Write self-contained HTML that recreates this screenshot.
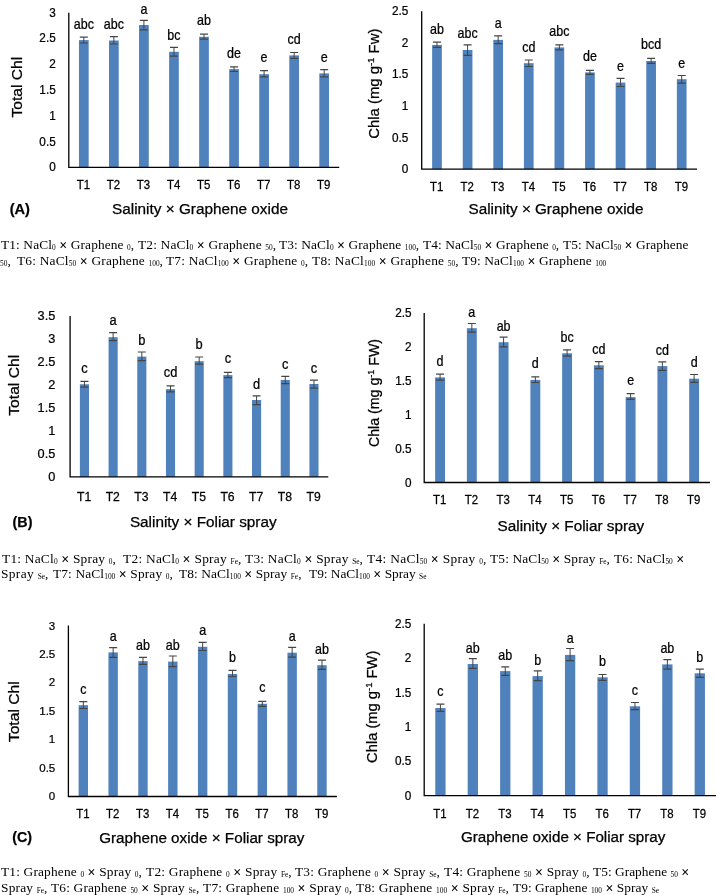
<!DOCTYPE html>
<html><head><meta charset="utf-8">
<style>
html,body{margin:0;padding:0;background:#fff;}
body{width:716px;height:895px;position:relative;overflow:hidden;}
svg{position:absolute;left:0;top:0;will-change:transform;}
text{font-family:"Liberation Sans",sans-serif;fill:#000;stroke:#000;stroke-width:0.25px;}
.k{font-size:11.5px;}
.l{font-size:12.5px;}
.t{font-size:11.2px;}
.c{position:absolute;white-space:pre;will-change:transform;font-family:"Liberation Serif",serif;font-size:13.4px;line-height:15px;color:#000;}
.s{font-size:7.4px;position:relative;top:1.2px;letter-spacing:0}
.x{font-size:14px;position:relative;top:0.6px;font-weight:bold;}
</style></head><body>
<svg width="716" height="895" viewBox="0 0 716 895">
<rect x="78.97" y="40.10" width="9.70" height="127.20" fill="#4f81bd"/>
<path d="M83.82 37.20V43.00" stroke="#454545" stroke-width="1.0" fill="none"/><path d="M79.82 37.20H87.82M79.82 43.00H87.82" stroke="#454545" stroke-width="1.2" fill="none"/>
<text transform="translate(83.82 28.60) scale(0.9 1)" text-anchor="middle" font-size="13.9">abc</text>
<text transform="translate(83.42 189.00) scale(0.96 1)" text-anchor="middle" font-size="11.9">T1</text>
<rect x="109.02" y="40.50" width="9.70" height="126.80" fill="#4f81bd"/>
<path d="M113.87 36.60V44.00" stroke="#454545" stroke-width="1.0" fill="none"/><path d="M109.87 36.60H117.87M109.87 44.00H117.87" stroke="#454545" stroke-width="1.2" fill="none"/>
<text transform="translate(113.87 28.80) scale(0.9 1)" text-anchor="middle" font-size="13.9">abc</text>
<text transform="translate(113.47 189.00) scale(0.96 1)" text-anchor="middle" font-size="11.9">T2</text>
<rect x="139.06" y="25.00" width="9.70" height="142.30" fill="#4f81bd"/>
<path d="M143.91 20.30V29.90" stroke="#454545" stroke-width="1.0" fill="none"/><path d="M139.91 20.30H147.91M139.91 29.90H147.91" stroke="#454545" stroke-width="1.2" fill="none"/>
<text transform="translate(143.91 14.00) scale(0.9 1)" text-anchor="middle" font-size="13.9">a</text>
<text transform="translate(143.51 189.00) scale(0.96 1)" text-anchor="middle" font-size="11.9">T3</text>
<rect x="169.11" y="51.80" width="9.70" height="115.50" fill="#4f81bd"/>
<path d="M173.96 47.30V56.10" stroke="#454545" stroke-width="1.0" fill="none"/><path d="M169.96 47.30H177.96M169.96 56.10H177.96" stroke="#454545" stroke-width="1.2" fill="none"/>
<text transform="translate(173.96 40.20) scale(0.9 1)" text-anchor="middle" font-size="13.9">bc</text>
<text transform="translate(173.56 189.00) scale(0.96 1)" text-anchor="middle" font-size="11.9">T4</text>
<rect x="199.15" y="36.80" width="9.70" height="130.50" fill="#4f81bd"/>
<path d="M204.00 34.20V39.10" stroke="#454545" stroke-width="1.0" fill="none"/><path d="M200.00 34.20H208.00M200.00 39.10H208.00" stroke="#454545" stroke-width="1.2" fill="none"/>
<text transform="translate(204.00 25.40) scale(0.9 1)" text-anchor="middle" font-size="13.9">ab</text>
<text transform="translate(203.60 189.00) scale(0.96 1)" text-anchor="middle" font-size="11.9">T5</text>
<rect x="229.19" y="69.10" width="9.70" height="98.20" fill="#4f81bd"/>
<path d="M234.04 66.80V71.50" stroke="#454545" stroke-width="1.0" fill="none"/><path d="M230.04 66.80H238.04M230.04 71.50H238.04" stroke="#454545" stroke-width="1.2" fill="none"/>
<text transform="translate(234.04 58.00) scale(0.9 1)" text-anchor="middle" font-size="13.9">de</text>
<text transform="translate(233.64 189.00) scale(0.96 1)" text-anchor="middle" font-size="11.9">T6</text>
<rect x="259.24" y="74.20" width="9.70" height="93.10" fill="#4f81bd"/>
<path d="M264.09 70.70V76.90" stroke="#454545" stroke-width="1.0" fill="none"/><path d="M260.09 70.70H268.09M260.09 76.90H268.09" stroke="#454545" stroke-width="1.2" fill="none"/>
<text transform="translate(264.09 62.30) scale(0.9 1)" text-anchor="middle" font-size="13.9">e</text>
<text transform="translate(263.69 189.00) scale(0.96 1)" text-anchor="middle" font-size="11.9">T7</text>
<rect x="289.28" y="55.40" width="9.70" height="111.90" fill="#4f81bd"/>
<path d="M294.13 52.50V58.40" stroke="#454545" stroke-width="1.0" fill="none"/><path d="M290.13 52.50H298.13M290.13 58.40H298.13" stroke="#454545" stroke-width="1.2" fill="none"/>
<text transform="translate(294.13 44.10) scale(0.9 1)" text-anchor="middle" font-size="13.9">cd</text>
<text transform="translate(293.73 189.00) scale(0.96 1)" text-anchor="middle" font-size="11.9">T8</text>
<rect x="319.33" y="73.40" width="9.70" height="93.90" fill="#4f81bd"/>
<path d="M324.18 69.70V76.90" stroke="#454545" stroke-width="1.0" fill="none"/><path d="M320.18 69.70H328.18M320.18 76.90H328.18" stroke="#454545" stroke-width="1.2" fill="none"/>
<text transform="translate(324.18 62.10) scale(0.9 1)" text-anchor="middle" font-size="13.9">e</text>
<text transform="translate(323.78 189.00) scale(0.96 1)" text-anchor="middle" font-size="11.9">T9</text>
<path d="M68.80 12.70V167.30H339.20" stroke="#000" stroke-width="1.3" fill="none"/>
<text transform="translate(55.70 171.30) scale(0.98 1)" text-anchor="end" font-size="12.0">0</text>
<text transform="translate(55.70 145.53) scale(0.98 1)" text-anchor="end" font-size="12.0">0.5</text>
<text transform="translate(55.70 119.76) scale(0.98 1)" text-anchor="end" font-size="12.0">1</text>
<text transform="translate(55.70 94.00) scale(0.98 1)" text-anchor="end" font-size="12.0">1.5</text>
<text transform="translate(55.70 68.23) scale(0.98 1)" text-anchor="end" font-size="12.0">2</text>
<text transform="translate(55.70 42.46) scale(0.98 1)" text-anchor="end" font-size="12.0">2.5</text>
<text transform="translate(55.70 16.70) scale(0.98 1)" text-anchor="end" font-size="12.0">3</text>
<rect x="432.14" y="45.00" width="9.70" height="124.20" fill="#4f81bd"/>
<path d="M436.99 42.20V47.30" stroke="#454545" stroke-width="1.0" fill="none"/><path d="M432.99 42.20H440.99M432.99 47.30H440.99" stroke="#454545" stroke-width="1.2" fill="none"/>
<text transform="translate(436.99 33.60) scale(0.9 1)" text-anchor="middle" font-size="13.9">ab</text>
<text transform="translate(436.59 191.30) scale(0.96 1)" text-anchor="middle" font-size="11.9">T1</text>
<rect x="462.73" y="50.00" width="9.70" height="119.20" fill="#4f81bd"/>
<path d="M467.58 44.80V55.30" stroke="#454545" stroke-width="1.0" fill="none"/><path d="M463.58 44.80H471.58M463.58 55.30H471.58" stroke="#454545" stroke-width="1.2" fill="none"/>
<text transform="translate(467.58 38.10) scale(0.9 1)" text-anchor="middle" font-size="13.9">abc</text>
<text transform="translate(467.18 191.30) scale(0.96 1)" text-anchor="middle" font-size="11.9">T2</text>
<rect x="493.32" y="39.90" width="9.70" height="129.30" fill="#4f81bd"/>
<path d="M498.17 35.80V43.60" stroke="#454545" stroke-width="1.0" fill="none"/><path d="M494.17 35.80H502.17M494.17 43.60H502.17" stroke="#454545" stroke-width="1.2" fill="none"/>
<text transform="translate(498.17 28.40) scale(0.9 1)" text-anchor="middle" font-size="13.9">a</text>
<text transform="translate(497.77 191.30) scale(0.96 1)" text-anchor="middle" font-size="11.9">T3</text>
<rect x="523.91" y="63.20" width="9.70" height="106.00" fill="#4f81bd"/>
<path d="M528.76 60.00V66.50" stroke="#454545" stroke-width="1.0" fill="none"/><path d="M524.76 60.00H532.76M524.76 66.50H532.76" stroke="#454545" stroke-width="1.2" fill="none"/>
<text transform="translate(528.76 52.40) scale(0.9 1)" text-anchor="middle" font-size="13.9">cd</text>
<text transform="translate(528.36 191.30) scale(0.96 1)" text-anchor="middle" font-size="11.9">T4</text>
<rect x="554.50" y="47.40" width="9.70" height="121.80" fill="#4f81bd"/>
<path d="M559.35 44.80V49.90" stroke="#454545" stroke-width="1.0" fill="none"/><path d="M555.35 44.80H563.35M555.35 49.90H563.35" stroke="#454545" stroke-width="1.2" fill="none"/>
<text transform="translate(559.35 35.70) scale(0.9 1)" text-anchor="middle" font-size="13.9">abc</text>
<text transform="translate(558.95 191.30) scale(0.96 1)" text-anchor="middle" font-size="11.9">T5</text>
<rect x="585.09" y="72.40" width="9.70" height="96.80" fill="#4f81bd"/>
<path d="M589.94 70.40V74.40" stroke="#454545" stroke-width="1.0" fill="none"/><path d="M585.94 70.40H593.94M585.94 74.40H593.94" stroke="#454545" stroke-width="1.2" fill="none"/>
<text transform="translate(589.94 61.00) scale(0.9 1)" text-anchor="middle" font-size="13.9">de</text>
<text transform="translate(589.54 191.30) scale(0.96 1)" text-anchor="middle" font-size="11.9">T6</text>
<rect x="615.68" y="82.60" width="9.70" height="86.60" fill="#4f81bd"/>
<path d="M620.53 78.30V86.50" stroke="#454545" stroke-width="1.0" fill="none"/><path d="M616.53 78.30H624.53M616.53 86.50H624.53" stroke="#454545" stroke-width="1.2" fill="none"/>
<text transform="translate(620.53 71.20) scale(0.9 1)" text-anchor="middle" font-size="13.9">e</text>
<text transform="translate(620.13 191.30) scale(0.96 1)" text-anchor="middle" font-size="11.9">T7</text>
<rect x="646.27" y="61.00" width="9.70" height="108.20" fill="#4f81bd"/>
<path d="M651.12 58.30V63.40" stroke="#454545" stroke-width="1.0" fill="none"/><path d="M647.12 58.30H655.12M647.12 63.40H655.12" stroke="#454545" stroke-width="1.2" fill="none"/>
<text transform="translate(651.12 49.30) scale(0.9 1)" text-anchor="middle" font-size="13.9">bcd</text>
<text transform="translate(650.72 191.30) scale(0.96 1)" text-anchor="middle" font-size="11.9">T8</text>
<rect x="676.86" y="79.20" width="9.70" height="90.00" fill="#4f81bd"/>
<path d="M681.71 75.50V83.20" stroke="#454545" stroke-width="1.0" fill="none"/><path d="M677.71 75.50H685.71M677.71 83.20H685.71" stroke="#454545" stroke-width="1.2" fill="none"/>
<text transform="translate(681.71 67.90) scale(0.9 1)" text-anchor="middle" font-size="13.9">e</text>
<text transform="translate(681.31 191.30) scale(0.96 1)" text-anchor="middle" font-size="11.9">T9</text>
<path d="M421.70 11.20V169.20H697.00" stroke="#000" stroke-width="1.3" fill="none"/>
<text transform="translate(408.30 173.20) scale(0.98 1)" text-anchor="end" font-size="12.0">0</text>
<text transform="translate(408.30 141.60) scale(0.98 1)" text-anchor="end" font-size="12.0">0.5</text>
<text transform="translate(408.30 110.00) scale(0.98 1)" text-anchor="end" font-size="12.0">1</text>
<text transform="translate(408.30 78.40) scale(0.98 1)" text-anchor="end" font-size="12.0">1.5</text>
<text transform="translate(408.30 46.80) scale(0.98 1)" text-anchor="end" font-size="12.0">2</text>
<text transform="translate(408.30 15.20) scale(0.98 1)" text-anchor="end" font-size="12.0">2.5</text>
<rect x="79.89" y="384.30" width="9.10" height="92.50" fill="#4f81bd"/>
<path d="M84.44 381.30V387.10" stroke="#454545" stroke-width="1.0" fill="none"/><path d="M80.44 381.30H88.44M80.44 387.10H88.44" stroke="#454545" stroke-width="1.2" fill="none"/>
<text transform="translate(84.44 372.90) scale(0.9 1)" text-anchor="middle" font-size="14.3">c</text>
<text transform="translate(84.04 501.30) scale(0.96 1)" text-anchor="middle" font-size="12.7">T1</text>
<rect x="108.58" y="337.20" width="9.10" height="139.60" fill="#4f81bd"/>
<path d="M113.13 332.70V340.60" stroke="#454545" stroke-width="1.0" fill="none"/><path d="M109.13 332.70H117.13M109.13 340.60H117.13" stroke="#454545" stroke-width="1.2" fill="none"/>
<text transform="translate(113.13 325.10) scale(0.9 1)" text-anchor="middle" font-size="14.3">a</text>
<text transform="translate(112.73 501.30) scale(0.96 1)" text-anchor="middle" font-size="12.7">T2</text>
<rect x="137.27" y="356.60" width="9.10" height="120.20" fill="#4f81bd"/>
<path d="M141.82 352.00V360.70" stroke="#454545" stroke-width="1.0" fill="none"/><path d="M137.82 352.00H145.82M137.82 360.70H145.82" stroke="#454545" stroke-width="1.2" fill="none"/>
<text transform="translate(141.82 344.90) scale(0.9 1)" text-anchor="middle" font-size="14.3">b</text>
<text transform="translate(141.42 501.30) scale(0.96 1)" text-anchor="middle" font-size="12.7">T3</text>
<rect x="165.96" y="389.20" width="9.10" height="87.60" fill="#4f81bd"/>
<path d="M170.51 385.80V391.80" stroke="#454545" stroke-width="1.0" fill="none"/><path d="M166.51 385.80H174.51M166.51 391.80H174.51" stroke="#454545" stroke-width="1.2" fill="none"/>
<text transform="translate(170.51 377.10) scale(0.9 1)" text-anchor="middle" font-size="14.3">cd</text>
<text transform="translate(170.11 501.30) scale(0.96 1)" text-anchor="middle" font-size="12.7">T4</text>
<rect x="194.65" y="361.20" width="9.10" height="115.60" fill="#4f81bd"/>
<path d="M199.20 357.00V364.20" stroke="#454545" stroke-width="1.0" fill="none"/><path d="M195.20 357.00H203.20M195.20 364.20H203.20" stroke="#454545" stroke-width="1.2" fill="none"/>
<text transform="translate(199.20 348.90) scale(0.9 1)" text-anchor="middle" font-size="14.3">b</text>
<text transform="translate(198.80 501.30) scale(0.96 1)" text-anchor="middle" font-size="12.7">T5</text>
<rect x="223.34" y="375.10" width="9.10" height="101.70" fill="#4f81bd"/>
<path d="M227.89 372.40V377.60" stroke="#454545" stroke-width="1.0" fill="none"/><path d="M223.89 372.40H231.89M223.89 377.60H231.89" stroke="#454545" stroke-width="1.2" fill="none"/>
<text transform="translate(227.89 363.30) scale(0.9 1)" text-anchor="middle" font-size="14.3">c</text>
<text transform="translate(227.49 501.30) scale(0.96 1)" text-anchor="middle" font-size="12.7">T6</text>
<rect x="252.03" y="400.00" width="9.10" height="76.80" fill="#4f81bd"/>
<path d="M256.58 395.90V404.60" stroke="#454545" stroke-width="1.0" fill="none"/><path d="M252.58 395.90H260.58M252.58 404.60H260.58" stroke="#454545" stroke-width="1.2" fill="none"/>
<text transform="translate(256.58 389.00) scale(0.9 1)" text-anchor="middle" font-size="14.3">d</text>
<text transform="translate(256.18 501.30) scale(0.96 1)" text-anchor="middle" font-size="12.7">T7</text>
<rect x="280.72" y="379.90" width="9.10" height="96.90" fill="#4f81bd"/>
<path d="M285.27 376.30V383.60" stroke="#454545" stroke-width="1.0" fill="none"/><path d="M281.27 376.30H289.27M281.27 383.60H289.27" stroke="#454545" stroke-width="1.2" fill="none"/>
<text transform="translate(285.27 368.90) scale(0.9 1)" text-anchor="middle" font-size="14.3">c</text>
<text transform="translate(284.87 501.30) scale(0.96 1)" text-anchor="middle" font-size="12.7">T8</text>
<rect x="309.41" y="384.00" width="9.10" height="92.80" fill="#4f81bd"/>
<path d="M313.96 380.10V388.20" stroke="#454545" stroke-width="1.0" fill="none"/><path d="M309.96 380.10H317.96M309.96 388.20H317.96" stroke="#454545" stroke-width="1.2" fill="none"/>
<text transform="translate(313.96 372.70) scale(0.9 1)" text-anchor="middle" font-size="14.3">c</text>
<text transform="translate(313.56 501.30) scale(0.96 1)" text-anchor="middle" font-size="12.7">T9</text>
<path d="M70.10 316.00V476.80H328.30" stroke="#000" stroke-width="1.3" fill="none"/>
<text transform="translate(55.30 481.15) scale(0.98 1)" text-anchor="end" font-size="13.0">0</text>
<text transform="translate(55.30 458.18) scale(0.98 1)" text-anchor="end" font-size="13.0">0.5</text>
<text transform="translate(55.30 435.21) scale(0.98 1)" text-anchor="end" font-size="13.0">1</text>
<text transform="translate(55.30 412.24) scale(0.98 1)" text-anchor="end" font-size="13.0">1.5</text>
<text transform="translate(55.30 389.27) scale(0.98 1)" text-anchor="end" font-size="13.0">2</text>
<text transform="translate(55.30 366.30) scale(0.98 1)" text-anchor="end" font-size="13.0">2.5</text>
<text transform="translate(55.30 343.33) scale(0.98 1)" text-anchor="end" font-size="13.0">3</text>
<text transform="translate(55.30 320.35) scale(0.98 1)" text-anchor="end" font-size="13.0">3.5</text>
<rect x="435.13" y="377.40" width="9.90" height="105.10" fill="#4f81bd"/>
<path d="M440.08 374.10V380.10" stroke="#454545" stroke-width="1.0" fill="none"/><path d="M436.08 374.10H444.08M436.08 380.10H444.08" stroke="#454545" stroke-width="1.2" fill="none"/>
<text transform="translate(440.08 365.70) scale(0.9 1)" text-anchor="middle" font-size="13.9">d</text>
<text transform="translate(439.68 504.00) scale(0.96 1)" text-anchor="middle" font-size="11.9">T1</text>
<rect x="466.88" y="328.20" width="9.90" height="154.30" fill="#4f81bd"/>
<path d="M471.83 323.50V332.20" stroke="#454545" stroke-width="1.0" fill="none"/><path d="M467.83 323.50H475.83M467.83 332.20H475.83" stroke="#454545" stroke-width="1.2" fill="none"/>
<text transform="translate(471.83 316.80) scale(0.9 1)" text-anchor="middle" font-size="13.9">a</text>
<text transform="translate(471.43 504.00) scale(0.96 1)" text-anchor="middle" font-size="11.9">T2</text>
<rect x="498.64" y="342.20" width="9.90" height="140.30" fill="#4f81bd"/>
<path d="M503.59 337.20V346.90" stroke="#454545" stroke-width="1.0" fill="none"/><path d="M499.59 337.20H507.59M499.59 346.90H507.59" stroke="#454545" stroke-width="1.2" fill="none"/>
<text transform="translate(503.59 331.00) scale(0.9 1)" text-anchor="middle" font-size="13.9">ab</text>
<text transform="translate(503.19 504.00) scale(0.96 1)" text-anchor="middle" font-size="11.9">T3</text>
<rect x="530.39" y="379.90" width="9.90" height="102.60" fill="#4f81bd"/>
<path d="M535.34 376.80V382.50" stroke="#454545" stroke-width="1.0" fill="none"/><path d="M531.34 376.80H539.34M531.34 382.50H539.34" stroke="#454545" stroke-width="1.2" fill="none"/>
<text transform="translate(535.34 367.90) scale(0.9 1)" text-anchor="middle" font-size="13.9">d</text>
<text transform="translate(534.94 504.00) scale(0.96 1)" text-anchor="middle" font-size="11.9">T4</text>
<rect x="562.15" y="353.30" width="9.90" height="129.20" fill="#4f81bd"/>
<path d="M567.10 349.80V356.10" stroke="#454545" stroke-width="1.0" fill="none"/><path d="M563.10 349.80H571.10M563.10 356.10H571.10" stroke="#454545" stroke-width="1.2" fill="none"/>
<text transform="translate(567.10 341.90) scale(0.9 1)" text-anchor="middle" font-size="13.9">bc</text>
<text transform="translate(566.70 504.00) scale(0.96 1)" text-anchor="middle" font-size="11.9">T5</text>
<rect x="593.91" y="365.30" width="9.90" height="117.20" fill="#4f81bd"/>
<path d="M598.86 361.70V368.70" stroke="#454545" stroke-width="1.0" fill="none"/><path d="M594.86 361.70H602.86M594.86 368.70H602.86" stroke="#454545" stroke-width="1.2" fill="none"/>
<text transform="translate(598.86 354.40) scale(0.9 1)" text-anchor="middle" font-size="13.9">cd</text>
<text transform="translate(598.46 504.00) scale(0.96 1)" text-anchor="middle" font-size="11.9">T6</text>
<rect x="625.66" y="397.10" width="9.90" height="85.40" fill="#4f81bd"/>
<path d="M630.61 393.70V399.30" stroke="#454545" stroke-width="1.0" fill="none"/><path d="M626.61 393.70H634.61M626.61 399.30H634.61" stroke="#454545" stroke-width="1.2" fill="none"/>
<text transform="translate(630.61 385.40) scale(0.9 1)" text-anchor="middle" font-size="13.9">e</text>
<text transform="translate(630.21 504.00) scale(0.96 1)" text-anchor="middle" font-size="11.9">T7</text>
<rect x="657.42" y="366.10" width="9.90" height="116.40" fill="#4f81bd"/>
<path d="M662.37 361.90V370.30" stroke="#454545" stroke-width="1.0" fill="none"/><path d="M658.37 361.90H666.37M658.37 370.30H666.37" stroke="#454545" stroke-width="1.2" fill="none"/>
<text transform="translate(662.37 354.90) scale(0.9 1)" text-anchor="middle" font-size="13.9">cd</text>
<text transform="translate(661.97 504.00) scale(0.96 1)" text-anchor="middle" font-size="11.9">T8</text>
<rect x="689.17" y="378.70" width="9.90" height="103.80" fill="#4f81bd"/>
<path d="M694.12 374.50V382.30" stroke="#454545" stroke-width="1.0" fill="none"/><path d="M690.12 374.50H698.12M690.12 382.30H698.12" stroke="#454545" stroke-width="1.2" fill="none"/>
<text transform="translate(694.12 367.30) scale(0.9 1)" text-anchor="middle" font-size="13.9">d</text>
<text transform="translate(693.72 504.00) scale(0.96 1)" text-anchor="middle" font-size="11.9">T9</text>
<path d="M424.20 313.00V482.50H710.00" stroke="#000" stroke-width="1.3" fill="none"/>
<text transform="translate(411.60 486.50) scale(0.98 1)" text-anchor="end" font-size="12.0">0</text>
<text transform="translate(411.60 452.60) scale(0.98 1)" text-anchor="end" font-size="12.0">0.5</text>
<text transform="translate(411.60 418.70) scale(0.98 1)" text-anchor="end" font-size="12.0">1</text>
<text transform="translate(411.60 384.80) scale(0.98 1)" text-anchor="end" font-size="12.0">1.5</text>
<text transform="translate(411.60 350.90) scale(0.98 1)" text-anchor="end" font-size="12.0">2</text>
<text transform="translate(411.60 317.00) scale(0.98 1)" text-anchor="end" font-size="12.0">2.5</text>
<rect x="78.62" y="705.20" width="9.40" height="91.30" fill="#4f81bd"/>
<path d="M83.32 701.70V708.50" stroke="#454545" stroke-width="1.0" fill="none"/><path d="M79.32 701.70H87.32M79.32 708.50H87.32" stroke="#454545" stroke-width="1.2" fill="none"/>
<text transform="translate(83.32 693.80) scale(0.9 1)" text-anchor="middle" font-size="13.9">c</text>
<text transform="translate(82.92 818.20) scale(0.96 1)" text-anchor="middle" font-size="11.9">T1</text>
<rect x="108.45" y="652.40" width="9.40" height="144.10" fill="#4f81bd"/>
<path d="M113.15 647.70V657.30" stroke="#454545" stroke-width="1.0" fill="none"/><path d="M109.15 647.70H117.15M109.15 657.30H117.15" stroke="#454545" stroke-width="1.2" fill="none"/>
<text transform="translate(113.15 641.00) scale(0.9 1)" text-anchor="middle" font-size="13.9">a</text>
<text transform="translate(112.75 818.20) scale(0.96 1)" text-anchor="middle" font-size="11.9">T2</text>
<rect x="138.28" y="661.10" width="9.40" height="135.40" fill="#4f81bd"/>
<path d="M142.98 657.40V664.40" stroke="#454545" stroke-width="1.0" fill="none"/><path d="M138.98 657.40H146.98M138.98 664.40H146.98" stroke="#454545" stroke-width="1.2" fill="none"/>
<text transform="translate(142.98 649.80) scale(0.9 1)" text-anchor="middle" font-size="13.9">ab</text>
<text transform="translate(142.58 818.20) scale(0.96 1)" text-anchor="middle" font-size="11.9">T3</text>
<rect x="168.12" y="661.60" width="9.40" height="134.90" fill="#4f81bd"/>
<path d="M172.82 656.00V666.60" stroke="#454545" stroke-width="1.0" fill="none"/><path d="M168.82 656.00H176.82M168.82 666.60H176.82" stroke="#454545" stroke-width="1.2" fill="none"/>
<text transform="translate(172.82 649.80) scale(0.9 1)" text-anchor="middle" font-size="13.9">ab</text>
<text transform="translate(172.42 818.20) scale(0.96 1)" text-anchor="middle" font-size="11.9">T4</text>
<rect x="197.95" y="646.80" width="9.40" height="149.70" fill="#4f81bd"/>
<path d="M202.65 642.30V650.50" stroke="#454545" stroke-width="1.0" fill="none"/><path d="M198.65 642.30H206.65M198.65 650.50H206.65" stroke="#454545" stroke-width="1.2" fill="none"/>
<text transform="translate(202.65 635.10) scale(0.9 1)" text-anchor="middle" font-size="13.9">a</text>
<text transform="translate(202.25 818.20) scale(0.96 1)" text-anchor="middle" font-size="11.9">T5</text>
<rect x="227.78" y="674.00" width="9.40" height="122.50" fill="#4f81bd"/>
<path d="M232.48 670.30V676.50" stroke="#454545" stroke-width="1.0" fill="none"/><path d="M228.48 670.30H236.48M228.48 676.50H236.48" stroke="#454545" stroke-width="1.2" fill="none"/>
<text transform="translate(232.48 661.90) scale(0.9 1)" text-anchor="middle" font-size="13.9">b</text>
<text transform="translate(232.08 818.20) scale(0.96 1)" text-anchor="middle" font-size="11.9">T6</text>
<rect x="257.62" y="703.80" width="9.40" height="92.70" fill="#4f81bd"/>
<path d="M262.32 701.30V706.30" stroke="#454545" stroke-width="1.0" fill="none"/><path d="M258.32 701.30H266.32M258.32 706.30H266.32" stroke="#454545" stroke-width="1.2" fill="none"/>
<text transform="translate(262.32 692.10) scale(0.9 1)" text-anchor="middle" font-size="13.9">c</text>
<text transform="translate(261.92 818.20) scale(0.96 1)" text-anchor="middle" font-size="11.9">T7</text>
<rect x="287.45" y="652.70" width="9.40" height="143.80" fill="#4f81bd"/>
<path d="M292.15 647.30V657.20" stroke="#454545" stroke-width="1.0" fill="none"/><path d="M288.15 647.30H296.15M288.15 657.20H296.15" stroke="#454545" stroke-width="1.2" fill="none"/>
<text transform="translate(292.15 641.00) scale(0.9 1)" text-anchor="middle" font-size="13.9">a</text>
<text transform="translate(291.75 818.20) scale(0.96 1)" text-anchor="middle" font-size="11.9">T8</text>
<rect x="317.28" y="665.20" width="9.40" height="131.30" fill="#4f81bd"/>
<path d="M321.98 660.20V669.40" stroke="#454545" stroke-width="1.0" fill="none"/><path d="M317.98 660.20H325.98M317.98 669.40H325.98" stroke="#454545" stroke-width="1.2" fill="none"/>
<text transform="translate(321.98 653.50) scale(0.9 1)" text-anchor="middle" font-size="13.9">ab</text>
<text transform="translate(321.58 818.20) scale(0.96 1)" text-anchor="middle" font-size="11.9">T9</text>
<path d="M68.40 625.60V796.50H336.90" stroke="#000" stroke-width="1.3" fill="none"/>
<text transform="translate(55.30 800.42) scale(0.98 1)" text-anchor="end" font-size="11.8">0</text>
<text transform="translate(55.30 771.94) scale(0.98 1)" text-anchor="end" font-size="11.8">0.5</text>
<text transform="translate(55.30 743.46) scale(0.98 1)" text-anchor="end" font-size="11.8">1</text>
<text transform="translate(55.30 714.97) scale(0.98 1)" text-anchor="end" font-size="11.8">1.5</text>
<text transform="translate(55.30 686.49) scale(0.98 1)" text-anchor="end" font-size="11.8">2</text>
<text transform="translate(55.30 658.01) scale(0.98 1)" text-anchor="end" font-size="11.8">2.5</text>
<text transform="translate(55.30 629.52) scale(0.98 1)" text-anchor="end" font-size="11.8">3</text>
<rect x="435.26" y="708.00" width="10.30" height="87.70" fill="#4f81bd"/>
<path d="M440.41 704.20V711.40" stroke="#454545" stroke-width="1.0" fill="none"/><path d="M436.41 704.20H444.41M436.41 711.40H444.41" stroke="#454545" stroke-width="1.2" fill="none"/>
<text transform="translate(440.41 696.30) scale(0.9 1)" text-anchor="middle" font-size="13.9">c</text>
<text transform="translate(440.01 817.60) scale(0.96 1)" text-anchor="middle" font-size="11.9">T1</text>
<rect x="467.68" y="664.00" width="10.30" height="131.70" fill="#4f81bd"/>
<path d="M472.83 658.60V668.30" stroke="#454545" stroke-width="1.0" fill="none"/><path d="M468.83 658.60H476.83M468.83 668.30H476.83" stroke="#454545" stroke-width="1.2" fill="none"/>
<text transform="translate(472.83 652.60) scale(0.9 1)" text-anchor="middle" font-size="13.9">ab</text>
<text transform="translate(472.43 817.60) scale(0.96 1)" text-anchor="middle" font-size="11.9">T2</text>
<rect x="500.11" y="671.10" width="10.30" height="124.60" fill="#4f81bd"/>
<path d="M505.26 666.90V675.30" stroke="#454545" stroke-width="1.0" fill="none"/><path d="M501.26 666.90H509.26M501.26 675.30H509.26" stroke="#454545" stroke-width="1.2" fill="none"/>
<text transform="translate(505.26 660.20) scale(0.9 1)" text-anchor="middle" font-size="13.9">ab</text>
<text transform="translate(504.86 817.60) scale(0.96 1)" text-anchor="middle" font-size="11.9">T3</text>
<rect x="532.53" y="676.10" width="10.30" height="119.60" fill="#4f81bd"/>
<path d="M537.68 670.80V680.70" stroke="#454545" stroke-width="1.0" fill="none"/><path d="M533.68 670.80H541.68M533.68 680.70H541.68" stroke="#454545" stroke-width="1.2" fill="none"/>
<text transform="translate(537.68 664.90) scale(0.9 1)" text-anchor="middle" font-size="13.9">b</text>
<text transform="translate(537.28 817.60) scale(0.96 1)" text-anchor="middle" font-size="11.9">T4</text>
<rect x="564.95" y="654.90" width="10.30" height="140.80" fill="#4f81bd"/>
<path d="M570.10 648.50V660.70" stroke="#454545" stroke-width="1.0" fill="none"/><path d="M566.10 648.50H574.10M566.10 660.70H574.10" stroke="#454545" stroke-width="1.2" fill="none"/>
<text transform="translate(570.10 642.60) scale(0.9 1)" text-anchor="middle" font-size="13.9">a</text>
<text transform="translate(569.70 817.60) scale(0.96 1)" text-anchor="middle" font-size="11.9">T5</text>
<rect x="597.37" y="677.30" width="10.30" height="118.40" fill="#4f81bd"/>
<path d="M602.52 674.50V680.30" stroke="#454545" stroke-width="1.0" fill="none"/><path d="M598.52 674.50H606.52M598.52 680.30H606.52" stroke="#454545" stroke-width="1.2" fill="none"/>
<text transform="translate(602.52 666.10) scale(0.9 1)" text-anchor="middle" font-size="13.9">b</text>
<text transform="translate(602.12 817.60) scale(0.96 1)" text-anchor="middle" font-size="11.9">T6</text>
<rect x="629.79" y="706.30" width="10.30" height="89.40" fill="#4f81bd"/>
<path d="M634.94 702.50V709.70" stroke="#454545" stroke-width="1.0" fill="none"/><path d="M630.94 702.50H638.94M630.94 709.70H638.94" stroke="#454545" stroke-width="1.2" fill="none"/>
<text transform="translate(634.94 694.60) scale(0.9 1)" text-anchor="middle" font-size="13.9">c</text>
<text transform="translate(634.54 817.60) scale(0.96 1)" text-anchor="middle" font-size="11.9">T7</text>
<rect x="662.22" y="664.40" width="10.30" height="131.30" fill="#4f81bd"/>
<path d="M667.37 659.70V669.10" stroke="#454545" stroke-width="1.0" fill="none"/><path d="M663.37 659.70H671.37M663.37 669.10H671.37" stroke="#454545" stroke-width="1.2" fill="none"/>
<text transform="translate(667.37 652.70) scale(0.9 1)" text-anchor="middle" font-size="13.9">ab</text>
<text transform="translate(666.97 817.60) scale(0.96 1)" text-anchor="middle" font-size="11.9">T8</text>
<rect x="694.64" y="673.30" width="10.30" height="122.40" fill="#4f81bd"/>
<path d="M699.79 669.10V677.30" stroke="#454545" stroke-width="1.0" fill="none"/><path d="M695.79 669.10H703.79M695.79 677.30H703.79" stroke="#454545" stroke-width="1.2" fill="none"/>
<text transform="translate(699.79 661.90) scale(0.9 1)" text-anchor="middle" font-size="13.9">b</text>
<text transform="translate(699.39 817.60) scale(0.96 1)" text-anchor="middle" font-size="11.9">T9</text>
<path d="M424.20 623.80V795.70H716.00" stroke="#000" stroke-width="1.3" fill="none"/>
<text transform="translate(411.40 799.70) scale(0.98 1)" text-anchor="end" font-size="12.0">0</text>
<text transform="translate(411.40 765.32) scale(0.98 1)" text-anchor="end" font-size="12.0">0.5</text>
<text transform="translate(411.40 730.94) scale(0.98 1)" text-anchor="end" font-size="12.0">1</text>
<text transform="translate(411.40 696.56) scale(0.98 1)" text-anchor="end" font-size="12.0">1.5</text>
<text transform="translate(411.40 662.18) scale(0.98 1)" text-anchor="end" font-size="12.0">2</text>
<text transform="translate(411.40 627.80) scale(0.98 1)" text-anchor="end" font-size="12.0">2.5</text>
<text x="112.00" y="213.60" font-size="14" textLength="176.00" lengthAdjust="spacingAndGlyphs">Salinity × Graphene oxide</text>
<text x="468.50" y="214.00" font-size="14" textLength="175.00" lengthAdjust="spacingAndGlyphs">Salinity × Graphene oxide</text>
<text x="129.90" y="527.20" font-size="14" textLength="146.70" lengthAdjust="spacingAndGlyphs">Salinity × Foliar spray</text>
<text x="497.60" y="530.60" font-size="14" textLength="146.60" lengthAdjust="spacingAndGlyphs">Salinity × Foliar spray</text>
<text x="99.20" y="842.50" font-size="14" textLength="205.20" lengthAdjust="spacingAndGlyphs">Graphene oxide × Foliar spray</text>
<text x="460.90" y="842.40" font-size="14" textLength="204.50" lengthAdjust="spacingAndGlyphs">Graphene oxide × Foliar spray</text>
<text x="0" y="0" transform="translate(22.30 87.20) rotate(-90)" font-size="14" text-anchor="middle" textLength="60.80" lengthAdjust="spacingAndGlyphs">Total Chl</text>
<text x="0" y="0" transform="translate(18.60 385.30) rotate(-90)" font-size="14" text-anchor="middle" textLength="60.80" lengthAdjust="spacingAndGlyphs">Total Chl</text>
<text x="0" y="0" transform="translate(19.30 711.70) rotate(-90)" font-size="14" text-anchor="middle" textLength="61.00" lengthAdjust="spacingAndGlyphs">Total Chl</text>
<text x="0" y="0" transform="translate(379.10 83.70) rotate(-90)" font-size="14" text-anchor="middle" textLength="110.10" lengthAdjust="spacingAndGlyphs">Chla (mg g<tspan font-size="9" dy="-5">-1</tspan><tspan dy="5"> </tspan>Fw)</text>
<text x="0" y="0" transform="translate(379.40 393.00) rotate(-90)" font-size="14" text-anchor="middle" textLength="108.20" lengthAdjust="spacingAndGlyphs">Chla (mg g<tspan font-size="9" dy="-5">-1</tspan><tspan dy="5"> </tspan>FW)</text>
<text x="0" y="0" transform="translate(376.60 706.80) rotate(-90)" font-size="14" text-anchor="middle" textLength="112.30" lengthAdjust="spacingAndGlyphs">Chla (mg g<tspan font-size="9" dy="-5">-1</tspan><tspan dy="5"> </tspan>FW)</text>
<text x="9.70" y="213.90" font-size="15.5" textLength="20.30" lengthAdjust="spacingAndGlyphs" font-weight="bold">(A)</text>
<text x="12.60" y="526.80" font-size="15.5" textLength="19.90" lengthAdjust="spacingAndGlyphs" font-weight="bold">(B)</text>
<text x="12.20" y="841.80" font-size="15.5" textLength="19.80" lengthAdjust="spacingAndGlyphs" font-weight="bold">(C)</text>
</svg>
<div class="c" id="c0_0" style="top:237.20px;left:1.00px;letter-spacing:0.104px">T1: NaCl<span class="s">0</span> <span class="x">×</span> Graphene <span class="s">0</span>, </div>
<div class="c" id="c0_1" style="top:237.20px;left:137.70px;letter-spacing:0.164px">T2: NaCl<span class="s">0</span> <span class="x">×</span> Graphene <span class="s">50</span>, </div>
<div class="c" id="c0_2" style="top:237.20px;left:279.40px;letter-spacing:0.086px">T3: NaCl<span class="s">0</span> <span class="x">×</span> Graphene <span class="s">100</span>, </div>
<div class="c" id="c0_3" style="top:237.20px;left:423.10px;letter-spacing:0.073px">T4: NaCl<span class="s">50</span> <span class="x">×</span> Graphene <span class="s">0</span>, </div>
<div class="c" id="c0_4" style="top:237.20px;left:562.80px;letter-spacing:0.066px">T5: NaCl<span class="s">50</span> <span class="x">×</span> Graphene</div>
<div class="c" id="c1_0" style="top:253.00px;left:0.40px;letter-spacing:1.003px"><span class="s">50</span>, </div>
<div class="c" id="c1_1" style="top:253.00px;left:16.50px;letter-spacing:0.191px">T6: NaCl<span class="s">50</span> <span class="x">×</span> Graphene <span class="s">100</span>, </div>
<div class="c" id="c1_2" style="top:253.00px;left:166.20px;letter-spacing:0.178px">T7: NaCl<span class="s">100</span> <span class="x">×</span> Graphene <span class="s">0</span>, </div>
<div class="c" id="c1_3" style="top:253.00px;left:311.90px;letter-spacing:0.223px">T8: NaCl<span class="s">100</span> <span class="x">×</span> Graphene <span class="s">50</span>, </div>
<div class="c" id="c1_4" style="top:253.00px;left:462.30px;letter-spacing:0.090px">T9: NaCl<span class="s">100</span> <span class="x">×</span> Graphene <span class="s">100</span></div>
<div class="c" id="c2_0" style="top:550.60px;left:1.70px;letter-spacing:0.212px">T1: NaCl<span class="s">0</span> <span class="x">×</span> Spray <span class="s">0</span>,  </div>
<div class="c" id="c2_1" style="top:550.60px;left:122.90px;letter-spacing:0.257px">T2: NaCl<span class="s">0</span> <span class="x">×</span> Spray <span class="s">Fe</span>, </div>
<div class="c" id="c2_2" style="top:550.60px;left:245.10px;letter-spacing:0.232px">T3: NaCl<span class="s">0</span> <span class="x">×</span> Spray <span class="s">Se</span>, </div>
<div class="c" id="c2_3" style="top:550.60px;left:366.80px;letter-spacing:0.310px">T4: NaCl<span class="s">50</span> <span class="x">×</span> Spray <span class="s">0</span>, </div>
<div class="c" id="c2_4" style="top:550.60px;left:490.00px;letter-spacing:0.132px">T5: NaCl<span class="s">50</span> <span class="x">×</span> Spray <span class="s">Fe</span>, </div>
<div class="c" id="c2_5" style="top:550.60px;left:613.50px;letter-spacing:0.145px">T6: NaCl<span class="s">50</span> <span class="x">×</span></div>
<div class="c" id="c3_0" style="top:566.30px;left:1.00px;letter-spacing:0.348px">Spray <span class="s">Se</span>, </div>
<div class="c" id="c3_1" style="top:566.30px;left:52.50px;letter-spacing:0.122px">T7: NaCl<span class="s">100</span> <span class="x">×</span> Spray <span class="s">0</span>,  </div>
<div class="c" id="c3_2" style="top:566.30px;left:179.30px;letter-spacing:0.068px">T8: NaCl<span class="s">100</span> <span class="x">×</span> Spray <span class="s">Fe</span>,  </div>
<div class="c" id="c3_3" style="top:566.30px;left:308.70px;letter-spacing:-0.035px">T9: NaCl<span class="s">100</span> <span class="x">×</span> Spray <span class="s">Se</span></div>
<div class="c" id="c4_0" style="top:864.10px;left:1.00px;letter-spacing:0.156px">T1: Graphene <span class="s">0</span> <span class="x">×</span> Spray <span class="s">0</span>, </div>
<div class="c" id="c4_1" style="top:864.10px;left:145.50px;letter-spacing:0.208px">T2: Graphene <span class="s">0</span> <span class="x">×</span> Spray <span class="s">Fe</span>, </div>
<div class="c" id="c4_2" style="top:864.10px;left:294.90px;letter-spacing:0.174px">T3: Graphene <span class="s">0</span> <span class="x">×</span> Spray <span class="s">Se</span>, </div>
<div class="c" id="c4_3" style="top:864.10px;left:443.50px;letter-spacing:0.200px">T4: Graphene <span class="s">50</span> <span class="x">×</span> Spray <span class="s">0</span>, </div>
<div class="c" id="c4_4" style="top:864.10px;left:592.70px;letter-spacing:0.015px">T5: Graphene <span class="s">50</span> <span class="x">×</span></div>
<div class="c" id="c5_0" style="top:879.50px;left:1.00px;letter-spacing:0.185px">Spray <span class="s">Fe</span>, </div>
<div class="c" id="c5_1" style="top:879.50px;left:51.20px;letter-spacing:0.157px">T6: Graphene <span class="s">50</span> <span class="x">×</span> Spray <span class="s">Se</span>, </div>
<div class="c" id="c5_2" style="top:879.50px;left:203.10px;letter-spacing:0.199px">T7: Graphene <span class="s">100</span> <span class="x">×</span> Spray <span class="s">0</span>, </div>
<div class="c" id="c5_3" style="top:879.50px;left:356.00px;letter-spacing:0.203px">T8: Graphene <span class="s">100</span> <span class="x">×</span> Spray <span class="s">Fe</span>, </div>
<div class="c" id="c5_4" style="top:879.50px;left:512.70px;letter-spacing:0.043px">T9: Graphene <span class="s">100</span> <span class="x">×</span> Spray <span class="s">Se</span></div>
</body></html>
